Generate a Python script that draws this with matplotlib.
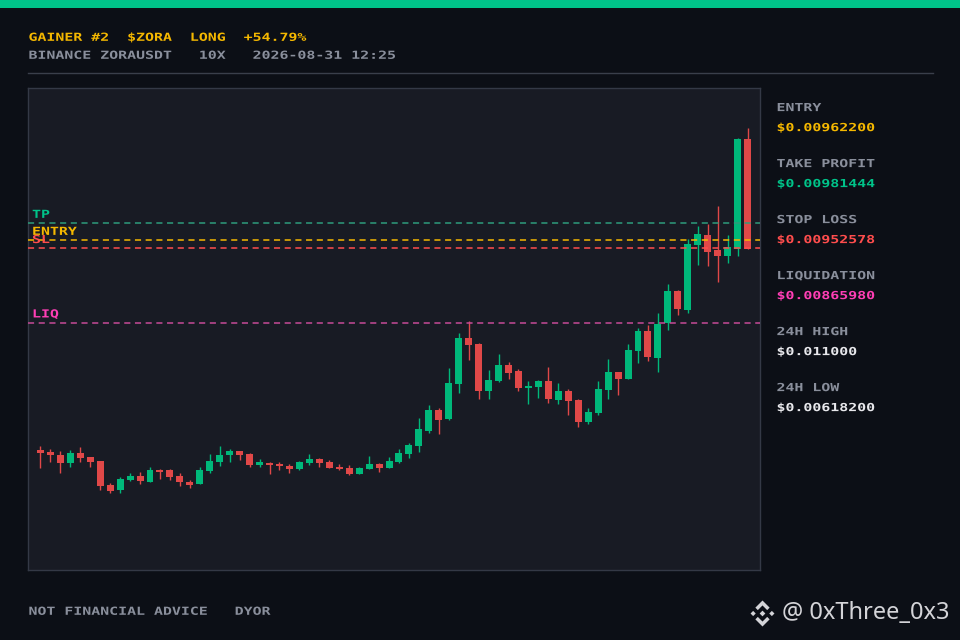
import matplotlib
matplotlib.use("Agg")
import matplotlib.pyplot as plt
from matplotlib.patches import Rectangle, Polygon
from matplotlib.patheffects import AbstractPathEffect
from matplotlib.transforms import Affine2D
import numpy as np

# ---------------- data ----------------
opens = [0.007192, 0.007169, 0.007134, 0.007041, 0.007157, 0.007111, 0.007064, 0.006786,
         0.006728, 0.006844, 0.006891, 0.006821, 0.006960, 0.006960, 0.006891, 0.006821,
         0.006798, 0.006949, 0.007053, 0.007134, 0.007180, 0.007145, 0.007018, 0.007041,
         0.007030, 0.007007, 0.006972, 0.007041, 0.007088, 0.007053, 0.006995, 0.006983,
         0.006914, 0.006972, 0.007030, 0.006983, 0.007053, 0.007145, 0.007238, 0.007412,
         0.007655, 0.007551, 0.007957, 0.008490, 0.008420, 0.007876, 0.007991, 0.008177,
         0.008107, 0.007910, 0.007922, 0.007991, 0.007771, 0.007876, 0.007771, 0.007516,
         0.007621, 0.007887, 0.008096, 0.008015, 0.008339, 0.008571, 0.008258, 0.008664,
         0.009035, 0.008814, 0.009567, 0.009683, 0.009509, 0.009440, 0.009521, 0.010795]
highs = [0.007238, 0.007204, 0.007180, 0.007192, 0.007227, 0.007111, 0.007064, 0.006810,
         0.006879, 0.006925, 0.006937, 0.006995, 0.006972, 0.006972, 0.006925, 0.006844,
         0.006995, 0.007145, 0.007238, 0.007204, 0.007180, 0.007157, 0.007088, 0.007053,
         0.007053, 0.007030, 0.007064, 0.007145, 0.007099, 0.007076, 0.007030, 0.007018,
         0.006995, 0.007122, 0.007041, 0.007111, 0.007204, 0.007273, 0.007563, 0.007713,
         0.007679, 0.008142, 0.008548, 0.008687, 0.008432, 0.008119, 0.008304, 0.008212,
         0.008131, 0.007991, 0.008003, 0.008154, 0.007968, 0.007899, 0.007783, 0.007679,
         0.007991, 0.008247, 0.008096, 0.008420, 0.008606, 0.008640, 0.008779, 0.009115,
         0.009046, 0.009637, 0.009787, 0.009811, 0.010019, 0.009683, 0.010807, 0.010923]
lows = [0.006983, 0.007053, 0.006925, 0.006995, 0.007053, 0.006995, 0.006728, 0.006694,
        0.006694, 0.006833, 0.006798, 0.006821, 0.006856, 0.006844, 0.006775, 0.006752,
        0.006798, 0.006925, 0.007007, 0.007053, 0.007076, 0.006995, 0.006995, 0.006914,
        0.006960, 0.006925, 0.006960, 0.007018, 0.006995, 0.006983, 0.006960, 0.006902,
        0.006914, 0.006972, 0.006937, 0.006983, 0.007041, 0.007099, 0.007169, 0.007389,
        0.007377, 0.007540, 0.007852, 0.008235, 0.007783, 0.007783, 0.007980, 0.008015,
        0.007876, 0.007725, 0.007795, 0.007736, 0.007725, 0.007598, 0.007458, 0.007493,
        0.007598, 0.007783, 0.007829, 0.008015, 0.008200, 0.008223, 0.008096, 0.008582,
        0.008756, 0.008779, 0.009336, 0.009324, 0.009139, 0.009359, 0.009440, 0.009521]
closes = [0.007157, 0.007126, 0.007041, 0.007157, 0.007099, 0.007053, 0.006775, 0.006717,
          0.006856, 0.006891, 0.006833, 0.006960, 0.006937, 0.006879, 0.006821, 0.006786,
          0.006960, 0.007064, 0.007134, 0.007180, 0.007134, 0.007018, 0.007053, 0.007018,
          0.007007, 0.006972, 0.007053, 0.007088, 0.007041, 0.006983, 0.006972, 0.006914,
          0.006983, 0.007030, 0.006983, 0.007064, 0.007157, 0.007250, 0.007435, 0.007655,
          0.007540, 0.007968, 0.008490, 0.008409, 0.007876, 0.008003, 0.008177, 0.008084,
          0.007910, 0.007933, 0.007991, 0.007783, 0.007876, 0.007760, 0.007516, 0.007632,
          0.007899, 0.008096, 0.008015, 0.008351, 0.008571, 0.008270, 0.008652, 0.009035,
          0.008826, 0.009579, 0.009695, 0.009486, 0.009440, 0.009544, 0.010795, 0.009521]

ENTRY = 0.00962200
TAKE_PROFIT = 0.00981444
STOP_LOSS = 0.00952578
LIQUIDATION = 0.00865980
HIGH_24H = 0.011000
LOW_24H = 0.00618200

title_line = "GAINER #2  $ZORA  LONG  +54.79%"
sub_line = "BINANCE ZORAUSDT   10X   2026-08-31 12:25"
footer_text = "NOT FINANCIAL ADVICE   DYOR"
watermark = "@ 0xThree_0x3"

panel_labels = ["ENTRY", "TAKE PROFIT", "STOP LOSS", "LIQUIDATION", "24H HIGH", "24H LOW"]
panel_values = ["$0.00962200", "$0.00981444", "$0.00952578", "$0.00865980", "$0.011000", "$0.00618200"]

# ---------------- styles ----------------
BG = "#0c0f16"
PANEL = "#181b24"
BORDER = "#343946"
GREEN = "#00b87a"
RED = "#e04848"
YELLOW = "#f5b800"
TXT_GREEN = "#00c389"
TXT_RED = "#ff4d4d"
PINK = "#ff3eb5"
GRAY = "#8a8f9c"
WHITE = "#e8e8ec"
panel_colors = [YELLOW, TXT_GREEN, TXT_RED, PINK, WHITE, WHITE]


class StretchX(AbstractPathEffect):
    """Render text glyphs widened horizontally (pixel-font look)."""
    def __init__(self, sx):
        super().__init__()
        self.sx = sx

    def draw_path(self, renderer, gc, tpath, affine, rgbFace=None):
        renderer.draw_path(gc, tpath, Affine2D().scale(self.sx, 1.0) + affine, rgbFace)


MONO = dict(family="DejaVu Sans Mono", weight="bold", fontsize=8.0,
            path_effects=[StretchX(1.34)])

W, H = 960, 640
fig = plt.figure(figsize=(9.6, 6.4), dpi=100, facecolor=BG)

# overlay in pixel coordinates (top-left origin)
ov = fig.add_axes([0, 0, 1, 1])
ov.set_xlim(0, W)
ov.set_ylim(H, 0)
ov.axis("off")

ov.add_patch(Rectangle((0, 0), W, 8, color="#00c389", lw=0))
ov.plot([28, 933], [72.5, 72.5], color="#3a3f4b", lw=1)

ov.text(28.5, 37.8, title_line, color=YELLOW, va="center", ha="left", **MONO)
ov.text(28.5, 55.8, sub_line, color=GRAY, va="center", ha="left", **MONO)
ov.text(28.5, 611.8, footer_text, color=GRAY, va="center", ha="left", **MONO)

for k, (lab, val, col) in enumerate(zip(panel_labels, panel_values, panel_colors)):
    y0 = 108.1 + 56 * k
    ov.text(776.5, y0, lab, color=GRAY, va="center", ha="left", **MONO)
    ov.text(776.5, y0 + 20, val, color=col, va="center", ha="left", **MONO)

# Binance-like logo
cx, cy, s = 762.5, 613.5, 13.0
logo_col = "#d4d4d8"
def poly(pts):
    ov.add_patch(Polygon([(cx + px * s, cy + py * s) for px, py in pts], closed=True,
                         color=logo_col, lw=0))
def diamond(x, y, r):
    poly([(x, y - r), (x + r, y), (x, y + r), (x - r, y)])
diamond(0, 0, 0.22)
diamond(-0.72, 0, 0.2)
diamond(0.72, 0, 0.2)
for sg in (-1, 1):
    poly([(0, sg * 1.0), (0.55, sg * 0.45), (0.36, sg * 0.26), (0, sg * 0.62),
          (-0.36, sg * 0.26), (-0.55, sg * 0.45)])

ov.text(782, 613, watermark, color=logo_col, va="center", ha="left",
        family="Noto Sans", fontsize=17)

# ---------------- chart ----------------
ax = fig.add_axes([28 / W, 1 - 570 / H, 732 / W, 482 / H])
ax.set_facecolor(PANEL)
for sp in ax.spines.values():
    sp.set_color(BORDER)
    sp.set_linewidth(1)
ax.set_xticks([])
ax.set_yticks([])

o = np.array(opens); h = np.array(highs); l = np.array(lows); c = np.array(closes)
x = np.arange(len(o))
up = c >= o
cols = np.where(up, GREEN, RED)
rng = HIGH_24H - LOW_24H
ymin, ymax = LOW_24H - 0.08 * rng, HIGH_24H + 0.08 * rng
ax.set_ylim(ymin, ymax)
ax.set_xlim(-1.25, len(o) - 1 + 1.25)

ax.vlines(x, l, h, colors=cols, lw=1.0, zorder=2)
body_lo = np.minimum(o, c)
body_h = np.maximum(np.abs(c - o), (ymax - ymin) / 482 * 1.5)
ax.bar(x, body_h, bottom=body_lo, width=0.7, color=cols, lw=0, zorder=3)

levels = [(TAKE_PROFIT, "TP", TXT_GREEN, "#2e9c7c", 6.2),
          (ENTRY, "ENTRY", YELLOW, YELLOW, 5.9),
          (STOP_LOSS, "SL", TXT_RED, TXT_RED, 6.0),
          (LIQUIDATION, "LIQ", PINK, "#c64a98", 6.2)]
for val, lab, tcol, lcol, off in levels:
    ax.axhline(val, color=lcol, lw=1.1, ls=(0, (4, 3)), zorder=4)
    ax.annotate(lab, xy=(0.0055, val), xycoords=("axes fraction", "data"),
                xytext=(0, off), textcoords="offset points",
                color=tcol, va="center", ha="left", zorder=5, **MONO)

fig.savefig("out.png", dpi=100, facecolor=BG)
